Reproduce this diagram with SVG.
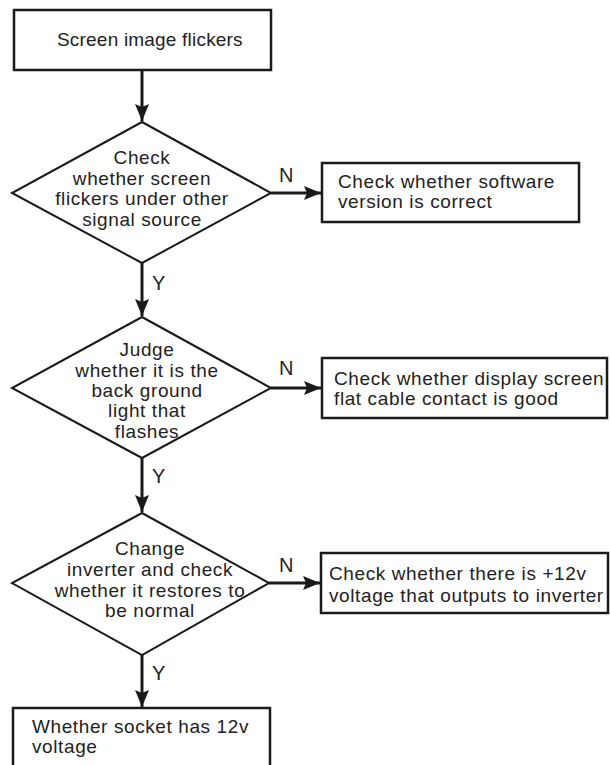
<svg xmlns="http://www.w3.org/2000/svg" width="610" height="765" viewBox="0 0 610 765">
<style>
.box{fill:#fff;stroke:#1a1a1a;stroke-width:2.5}
.dia{fill:#fff;stroke:#1a1a1a;stroke-width:2}
.t{font-family:"Liberation Sans",Arial,sans-serif;font-size:19px;letter-spacing:0.6px;fill:#222}
.c{text-anchor:middle}
.lbl{font-family:"Liberation Sans",Arial,sans-serif;font-size:20px;fill:#222}
.conn{stroke:#1a1a1a;stroke-width:3;fill:none;marker-end:url(#ah)}
</style>
<defs>
<marker id="ah" markerUnits="userSpaceOnUse" markerWidth="18" markerHeight="14" refX="17" refY="7" orient="auto">
<path d="M0,0 L17,7 L0,14 L3,7 z" fill="#1a1a1a"/>
</marker>
</defs>
<rect width="610" height="765" fill="#fff"/>
<g id="connectors">
<line class="conn" x1="142" y1="70" x2="142" y2="121"/>
<line class="conn" x1="142" y1="263" x2="142" y2="316"/>
<line class="conn" x1="142" y1="458" x2="142" y2="512"/>
<line class="conn" x1="142" y1="655" x2="142" y2="707"/>
<line class="conn" x1="271" y1="193" x2="321" y2="193"/>
<line class="conn" x1="271" y1="388" x2="321" y2="388"/>
<line class="conn" x1="269" y1="583" x2="320" y2="583"/>
<text class="lbl" x="279" y="182">N</text>
<text class="lbl" x="279" y="375">N</text>
<text class="lbl" x="279" y="572">N</text>
<text class="lbl" x="152" y="290">Y</text>
<text class="lbl" x="152" y="483">Y</text>
<text class="lbl" x="152" y="680">Y</text>
</g>
<g id="start">
<rect class="box" x="14" y="10" width="257" height="60"/>
<text class="t" x="57" y="46" style="letter-spacing:0.2px">Screen image flickers</text>
</g>
<g id="d1">
<polygon class="dia" points="142,122 271,193 142,263 12,193"/>
<text class="t c" x="142" y="164">Check</text>
<text class="t c" x="142" y="185">whether screen</text>
<text class="t c" x="142" y="205">flickers under other</text>
<text class="t c" x="142" y="226">signal source</text>
</g>
<g id="b1">
<rect class="box" x="322" y="163" width="257" height="59"/>
<text class="t" x="338" y="188">Check whether software</text>
<text class="t" x="338" y="208">version is correct</text>
</g>
<g id="d2">
<polygon class="dia" points="142,317 271,388 142,458 12,388"/>
<text class="t c" x="147" y="356">Judge</text>
<text class="t c" x="147" y="377">whether it is the</text>
<text class="t c" x="147" y="397">back ground</text>
<text class="t c" x="147" y="417">light that</text>
<text class="t c" x="147" y="438">flashes</text>
</g>
<g id="b2">
<rect class="box" x="322" y="358" width="285" height="60"/>
<text class="t" x="334" y="385">Check whether display screen</text>
<text class="t" x="334" y="405">flat cable contact is good</text>
</g>
<g id="d3">
<polygon class="dia" points="142,513 269,583 142,655 12,583"/>
<text class="t c" x="150" y="555">Change</text>
<text class="t c" x="150" y="576">inverter and check</text>
<text class="t c" x="150" y="597">whether it restores to</text>
<text class="t c" x="150" y="617">be normal</text>
</g>
<g id="b3">
<rect class="box" x="321" y="553" width="287" height="60"/>
<text class="t" x="329" y="580">Check whether there is +12v</text>
<text class="t" x="329" y="602">voltage that outputs to inverter</text>
</g>
<g id="end">
<rect class="box" x="13" y="708" width="257" height="80"/>
<text class="t" x="32" y="733">Whether socket has 12v</text>
<text class="t" x="32" y="753">voltage</text>
</g>
</svg>
